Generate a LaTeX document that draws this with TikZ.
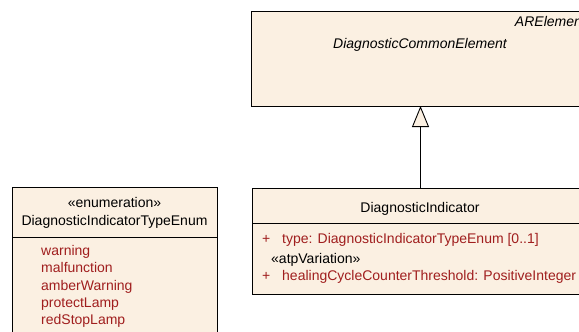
\documentclass[tikz,border=0pt]{standalone}
\usepackage{fontspec}
\setmainfont{Liberation Sans}
\usetikzlibrary{arrows.meta}
\definecolor{umlfill}{RGB}{251,240,226}
\definecolor{umlred}{RGB}{160,30,30}
\tikzset{
  umlbox/.style={draw=black, line width=0.9pt, fill=umlfill},
  txt/.style={inner sep=0pt, anchor=base, font=\fontsize{14}{17}\selectfont},
  attr/.style={txt, anchor=base west, text=umlred},
  gen/.style={draw=black, line width=0.9pt, -{Triangle[open, length=21pt, width=17pt, fill=umlfill]}}
}
\begin{document}
\begin{tikzpicture}[x=1pt, y=-1pt]
\useasboundingbox (0,0) rectangle (579,332);
\clip (0,0) rectangle (579,332);
% top box
\draw[umlbox] (251,11) rectangle (592,106);
\coordinate (topS) at (420.5,106);
\node[txt, anchor=base east, font=\fontsize{14}{17}\selectfont\itshape] (are) at (586,27) {ARElement};
\node[txt, font=\fontsize{14}{17}\selectfont\itshape] (dce) at (420,48) {DiagnosticCommonElement};
% bottom right box
\draw[umlbox] (252,188) rectangle (592,294);
\draw[line width=0.9pt] (252,223) -- (592,223);
\coordinate (diN) at (420.5,188);
\node[txt] (di) at (420,212) {DiagnosticIndicator};
\node[attr] (p1) at (262,243) {+};
\node[attr] (a1) at (282,243) {type: DiagnosticIndicatorTypeEnum [0..1]};
\node[txt, anchor=base west] (st) at (271,263) {«atpVariation»};
\node[attr] (p2) at (262,280) {+};
\node[attr] (a2) at (282,280) {healingCycleCounterThreshold: PositiveInteger};
% generalization
\draw[gen] (diN) -- (topS);
% enumeration box
\draw[umlbox] (12,187) rectangle (217,340);
\draw[line width=0.9pt] (12,237) -- (217,237);
\node[txt] (en) at (114.5,207) {«enumeration»};
\node[txt] (dite) at (114.5,225) {DiagnosticIndicatorTypeEnum};
\node[attr] (l1) at (41,255) {warning};
\node[attr] (l2) at (41,272.5) {malfunction};
\node[attr] (l3) at (41,290) {amberWarning};
\node[attr] (l4) at (41,307) {protectLamp};
\node[attr] (l5) at (41,324) {redStopLamp};
\end{tikzpicture}
\end{document}
